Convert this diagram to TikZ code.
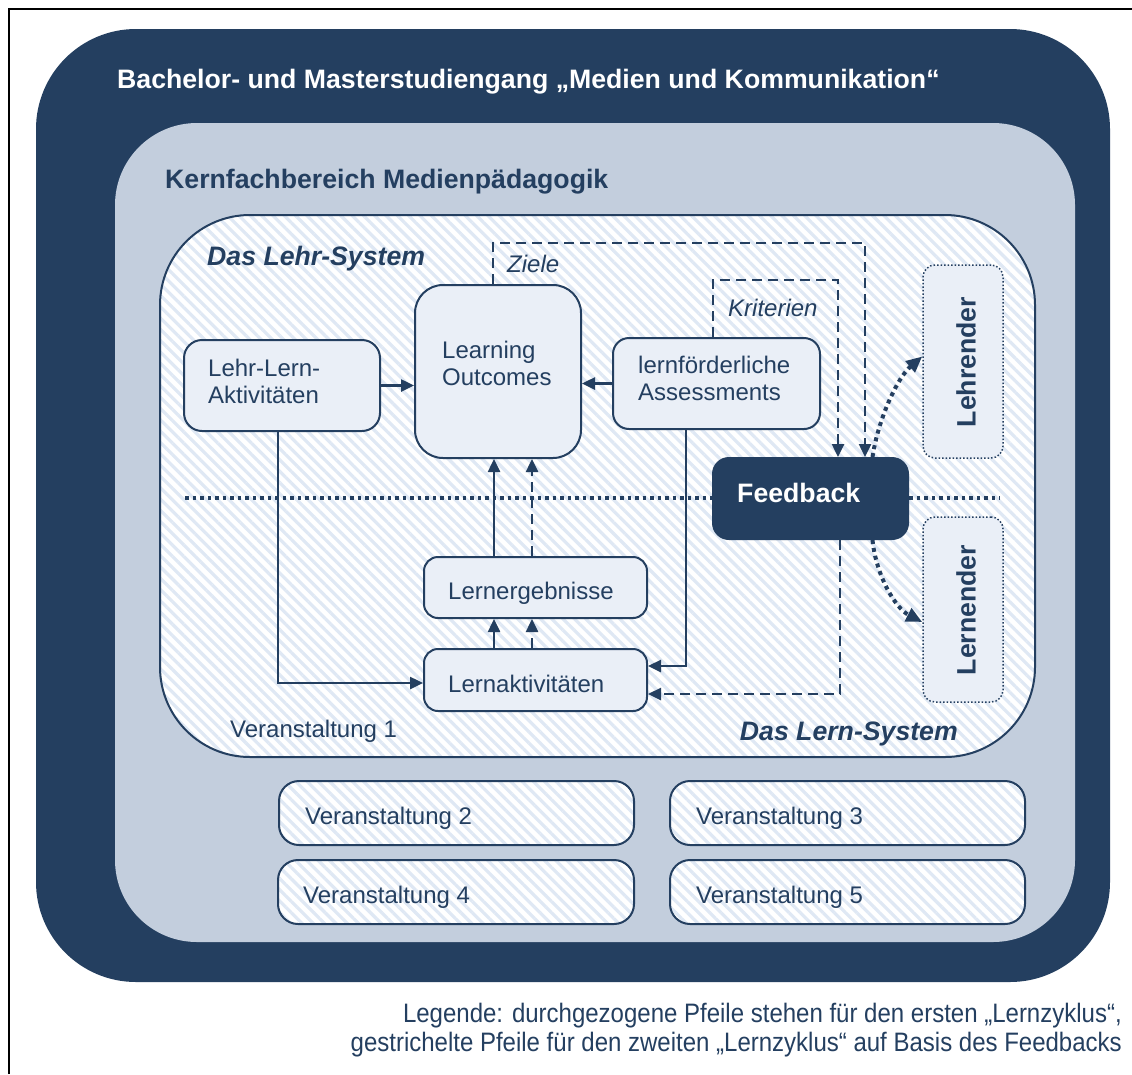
\documentclass[tikz,border=0pt]{standalone}
\usepackage{fontspec}
\setmainfont{Liberation Sans}
\usetikzlibrary{arrows.meta,patterns.meta,calc}
\definecolor{navy}{HTML}{243F60}
\definecolor{graybg}{HTML}{C3CEDD}
\definecolor{boxfill}{HTML}{EAEFF7}
\definecolor{hatch}{HTML}{DFE8F4}
\newcommand{\fsA}{\fontsize{24}{27.6}\selectfont}
\newcommand{\fsB}{\fontsize{26.67}{30}\selectfont}
\begin{document}
\begin{tikzpicture}[x=1pt,y=-1pt,
  hatched/.style={preaction={fill=white}, preaction={pattern={Lines[angle=-45,distance=8pt,line width=3.2pt]}, pattern color=hatch}},
  boxnode/.style={draw=navy, line width=2pt, fill=boxfill, inner sep=0pt, rectangle},
  vbox/.style={draw=navy, line width=2pt, hatched, inner sep=0pt, rectangle, rounded corners=20pt, minimum width=355pt, minimum height=64pt},
  txt/.style={anchor=base west, inner sep=0pt, text=navy, font=\fsA},
  btxt/.style={anchor=base west, inner sep=0pt, text=navy, font=\fsB\bfseries},
  itxt/.style={anchor=base west, inner sep=0pt, text=navy, font=\fsA\itshape},
  conn/.style={draw=navy, line width=2.5pt, -{Triangle[length=13pt,width=12pt]}},
  dconn/.style={conn, dash pattern=on 10pt off 6pt},
  dotconn/.style={draw=navy, line width=4pt, dash pattern=on 4pt off 4pt, -{Triangle[length=16pt,width=14pt]}},
]
\useasboundingbox (0,0) rectangle (1132,1074);
\fill[white] (0,0) rectangle (1132,1074);
% frame (top and left visible)
\draw[black, line width=2pt] (9,1074) -- (9,9) -- (1132,9);
% outer containers
\fill[navy, rounded corners=100pt] (36,29) rectangle (1110,982);
\fill[graybg, rounded corners=82pt] (115,123) rectangle (1075,942);
\draw[navy, line width=2pt, hatched, rounded corners=90pt] (160,215) rectangle (1035,757);

\node[anchor=base west, inner sep=0pt, text=white, font=\fsB\bfseries] (title) at (117,88) {Bachelor- und Masterstudiengang „Medien und Kommunikation“};
\node[btxt] (kern) at (165,188) {Kernfachbereich Medienpädagogik};
\node[btxt, font=\fsB\bfseries\itshape] (lehrsys) at (207,265) {Das Lehr-System};
\node[btxt, font=\fsB\bfseries\itshape, anchor=base east] (lernsys) at (958,740) {Das Lern-System};
\node[txt] (v1) at (230,737) {Veranstaltung 1};

% dotted separator
\coordinate (dl) at (185,498);
\coordinate (dr) at (1000,498);

% boxes
\node[boxnode, rounded corners=18pt, minimum width=196pt, minimum height=91pt] (lla) at (282,385.5) {};
\node[boxnode, rounded corners=28pt, minimum width=166pt, minimum height=173pt] (lo) at (498,371.5) {};
\node[boxnode, rounded corners=16pt, minimum width=207pt, minimum height=91pt] (ass) at (716.5,383.5) {};
\node[draw=navy, fill=navy, line width=2pt, inner sep=0pt, rounded corners=16pt, minimum width=195pt, minimum height=81pt] (fb) at (810.5,498.5) {};
\node[boxnode, line width=1.5pt, dash pattern=on 1.5pt off 2pt, rounded corners=12pt, minimum width=80pt, minimum height=193pt] (leh) at (963,361.5) {};
\node[boxnode, line width=1.5pt, dash pattern=on 1.5pt off 2pt, rounded corners=12pt, minimum width=80pt, minimum height=185pt] (lern) at (963,609.5) {};
\node[boxnode, rounded corners=14pt, minimum width=223pt, minimum height=61pt] (leg) at (535.5,587.5) {};
\node[boxnode, rounded corners=14pt, minimum width=223pt, minimum height=62pt] (lak) at (535.5,680) {};

\draw[navy, line width=3.5pt, dash pattern=on 3.5pt off 4pt] (dl) -- (dl -| fb.west);
\draw[navy, line width=3.5pt, dash pattern=on 3.5pt off 4pt] (fb.east |- dr) -- (dr);

% texts in boxes
\node[txt] (llat1) at (208,376) {Lehr-Lern-};
\node[txt] (llat2) at (208,403) {Aktivitäten};
\node[txt] (lot1) at (442,358) {Learning};
\node[txt] (lot2) at (442,385) {Outcomes};
\node[txt] (asst1) at (638,373) {lernförderliche};
\node[txt] (asst2) at (638,400) {Assessments};
\node[anchor=base west, inner sep=0pt, text=white, font=\fsB\bfseries] (fbt) at (737,502) {Feedback};
\node[text=navy, font=\fsB\bfseries, rotate=90, inner sep=0pt] (leht) at (966,362) {Lehrender};
\node[text=navy, font=\fsB\bfseries, rotate=90, inner sep=0pt] (lernt) at (966,610) {Lernender};
\node[txt] (legt) at (448,599) {Lernergebnisse};
\node[txt] (lakt) at (448,692) {Lernaktivitäten};
\node[itxt] (ziele) at (507,272) {Ziele};
\node[itxt] (krit) at (728,316) {Kriterien};

% solid connectors
\draw[conn] (lla.east) -- (lla.east -| lo.west);
\draw[conn] (ass.west) -- (ass.west -| lo.east);
\draw[conn] ([xshift=-4pt]lla.south) |- ([yshift=-3pt]lak.west);
\draw[conn] ([xshift=-30.5pt]ass.south) |- ([yshift=14pt]lak.east);
\draw[conn] ([xshift=-41.5pt]leg.north) -- ([xshift=-41.5pt]leg.north |- lo.south);
\draw[conn] ([xshift=-41.5pt]lak.north) -- ([xshift=-41.5pt]lak.north |- leg.south);
% dashed connectors
\draw[dconn] ([xshift=-3.5pt]leg.north) -- ([xshift=-3.5pt]leg.north |- lo.south);
\draw[dconn] ([xshift=-3.5pt]lak.north) -- ([xshift=-3.5pt]lak.north |- leg.south);
\draw[dconn] ([xshift=29.5pt]fb.south) |- ([yshift=-14pt]lak.east);
\draw[dconn] ([xshift=-5pt]lo.north) -- ++(0,-41) -| ([xshift=54.5pt]fb.north);
\draw[dconn] ([xshift=-3.5pt]ass.north) -- ++(0,-57) -| ([xshift=27.5pt]fb.north);
% dotted curved connectors
\draw[dotconn] ([xshift=62pt]fb.north) .. controls (878,420) and (897,378) .. ([yshift=5pt]leh.west);
\draw[dotconn] ([xshift=62pt]fb.south) .. controls (876,575) and (895,608) .. ([yshift=-12.5pt]lern.west);

% other courses
\node[vbox] (v2) at (456.5,813) {};
\node[vbox] (v3) at (847.5,813) {};
\node[vbox, minimum width=356pt] (v4) at (456,892) {};
\node[vbox] (v5) at (847.5,892) {};
\node[txt] (v2t) at (305,824) {Veranstaltung 2};
\node[txt] (v3t) at (696,824) {Veranstaltung 3};
\node[txt] (v4t) at (303,903) {Veranstaltung 4};
\node[txt] (v5t) at (696,903) {Veranstaltung 5};

% legend
\node[anchor=base east, inner sep=0pt, text=navy, font=\fsB] (leg1) at (1122,1022) {\scalebox{0.9}[1]{Legende: durchgezogene Pfeile stehen für den ersten „Lernzyklus“,}};
\node[anchor=base east, inner sep=0pt, text=navy, font=\fsB] (leg2) at (1122,1051) {\scalebox{0.9}[1]{gestrichelte Pfeile für den zweiten „Lernzyklus“ auf Basis des Feedbacks}};
\end{tikzpicture}
\end{document}
